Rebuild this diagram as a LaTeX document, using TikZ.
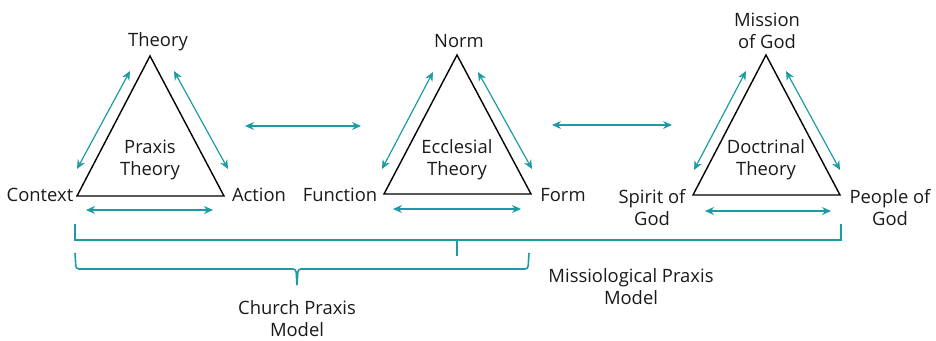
\documentclass[tikz,border=0pt]{standalone}
\usepackage{fontspec}
\setmainfont{Open Sans}
\usetikzlibrary{arrows.meta}
\definecolor{verde}{HTML}{1B9CA5}
\definecolor{testo}{HTML}{1A1A1A}

\begin{document}
\begin{tikzpicture}[x=1pt,y=-1pt,
    lato/.style={draw=black, line width=1.4pt, line join=miter},
    freccia/.style={{Stealth[length=9pt,width=8pt]}-{Stealth[length=9pt,width=8pt]}, draw=verde, line width=1.2pt},
    etichetta/.style={font=\fontsize{18.4}{22}\selectfont, text=testo, align=center, inner sep=0pt},
    graffa/.style={draw=verde, line width=1.6pt}]
    \useasboundingbox (0,0) rectangle (936,340);

    % Triangolo 1: Praxis Theory
    \coordinate (pA) at (150,56);
    \coordinate (pB) at (77,196);
    \coordinate (pC) at (224,196);
    \draw[lato] (pA) -- (pB) -- (pC) -- cycle;
    \node[etichetta] (theory) at (158,42) {Theory};
    \node[etichetta] (context) at (40,195) {Context};
    \node[etichetta] (action) at (259,195) {Action};
    \node[etichetta] (praxis) at (150,160) {Praxis\\Theory};

    % Triangolo 2: Ecclesial Theory
    \coordinate (eA) at (457,55);
    \coordinate (eB) at (384,194);
    \coordinate (eC) at (531,194);
    \draw[lato] (eA) -- (eB) -- (eC) -- cycle;
    \node[etichetta] (norm) at (459,41) {Norm};
    \node[etichetta] (function) at (340,195) {Function};
    \node[etichetta] (form) at (563,195) {Form};
    \node[etichetta] (ecclesial) at (457,160) {Ecclesial\\Theory};

    % Triangolo 3: Doctrinal Theory
    \coordinate (dA) at (766,55);
    \coordinate (dB) at (693,195);
    \coordinate (dC) at (840,195);
    \draw[lato] (dA) -- (dB) -- (dC) -- cycle;
    \node[etichetta] (mission) at (767,31) {Mission\\of God};
    \node[etichetta] (spirit) at (652,208) {Spirit of\\God};
    \node[etichetta] (people) at (890,208) {People of\\God};
    \node[etichetta] (doctrinal) at (766,160) {Doctrinal\\Theory};

    % Frecce attorno ai triangoli
    \coordinate (p1) at (130,71);  \coordinate (p2) at (77,169);
    \coordinate (p3) at (174,71);  \coordinate (p4) at (228,169);
    \coordinate (p5) at (86,210);  \coordinate (p6) at (213,210);
    \draw[freccia] (p1) -- (p2);
    \draw[freccia] (p3) -- (p4);
    \draw[freccia] (p5) -- (p6);

    \coordinate (e1) at (433,72);  \coordinate (e2) at (382,169);
    \coordinate (e3) at (478,72);  \coordinate (e4) at (532,169);
    \coordinate (e5) at (393,209); \coordinate (e6) at (521,209);
    \draw[freccia] (e1) -- (e2);
    \draw[freccia] (e3) -- (e4);
    \draw[freccia] (e5) -- (e6);

    \coordinate (d1) at (746,71);  \coordinate (d2) at (694,170);
    \coordinate (d3) at (786,71);  \coordinate (d4) at (840,170);
    \coordinate (d5) at (705,211); \coordinate (d6) at (831,211);
    \draw[freccia] (d1) -- (d2);
    \draw[freccia] (d3) -- (d4);
    \draw[freccia] (d5) -- (d6);

    % Frecce tra i triangoli
    \coordinate (h1) at (245,126); \coordinate (h2) at (361,126);
    \coordinate (h3) at (552,125); \coordinate (h4) at (672,125);
    \draw[freccia] (h1) -- (h2);
    \draw[freccia] (h3) -- (h4);

    % Parentesi grande
    \coordinate (g1) at (75,224);
    \coordinate (g2) at (841,224);
    \coordinate (gm) at (457,240);
    \draw[graffa] (g1) |- (gm) -| (g2);
    \draw[graffa] (gm) -- ++(0,16);
    \node[etichetta] (missiological) at (631,287) {Missiological Praxis\\Model};

    % Parentesi piccola
    \coordinate (c1) at (75,253);
    \coordinate (c2) at (529,253);
    \coordinate (cm) at (297,269);
    \draw[graffa, rounded corners=3pt] (c1) -- (76,269) -- (296,269) -- (297,285);
    \draw[graffa, rounded corners=3pt] (c2) -- (528,269) -- (298,269) -- (297,285);
    \node[etichetta] (church) at (297,319) {Church Praxis\\Model};
\end{tikzpicture}
\end{document}
